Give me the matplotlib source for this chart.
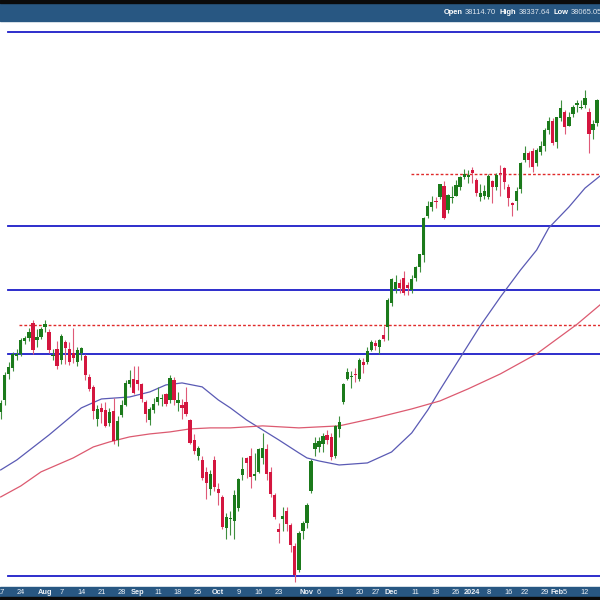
"""
Daily candlestick chart, Jul 2023 - Feb 2024, with two moving averages
and hand-drawn support / resistance levels.
"""
import numpy as np
import matplotlib
matplotlib.use("Agg")
import matplotlib.pyplot as plt
from matplotlib.patches import Rectangle
from matplotlib.transforms import blended_transform_factory

BAND   = "#285782"
UP     = "#1b7a1b"
DOWN   = "#d4163f"
UPWICK = "#3f8f3f"
DNWICK = "#df5a78"
LEVEL  = "#1c1cc8"
DOTTED = "#e02a2a"

plt.rcParams["font.family"] = ["Liberation Sans", "DejaVu Sans"]

# ── Daily candles, index 0 = Jul 17 2023, last = Feb 15 2024
OPEN = [
    34470, 34620, 34960, 35050, 35200, 35230, 35400, 35440, 35650, 35420, 35460,          # Jul
    35590, 35520, 35200, 35300, 35150, 35390, 35300, 35240, 35120, 35250, 35200, 34920,   # Aug
    34790, 34380, 34520, 34500, 34320, 34480, 34110, 34430, 34560, 34830, 34900,
    34890, 34830, 34600, 34360, 34500, 34600, 34640, 34700, 34620, 34890, 34580, 34560,   # Sep
    34600, 34370, 34100, 33900, 33850, 33700, 33480, 33850,
    33480, 33380, 32990, 33100, 33080, 33240, 33660, 33880, 33900, 33640, 33700, 33880,   # Oct
    33990, 33700, 33400, 32980, 33100, 33200, 33030, 32770, 32470, 32950,
    33050, 33460, 33990, 34020, 34050, 34170, 34150, 33900, 34250, 34600, 34900, 34930,   # Nov
    34960, 34900, 35130, 35120, 35280, 35380, 35330, 35480, 35590,
    35910, 36110, 36190, 36250, 36160, 36090, 36250, 36400, 36570, 37120, 37240, 37330,   # Dec
    37380, 37540, 37200, 37370, 37400, 37520, 37670, 37670,
    37760, 37620, 37380, 37400, 37380, 37600, 37520, 37720, 37790, 37520, 37300, 37330,   # Jan
    37500, 37900, 38000, 38030, 37860, 38020, 38100, 38330, 38470,
    38160, 38510, 38600, 38400, 38570, 38700, 38660, 38700, 38600, 38330, 38440,          # Feb
]
HIGH = [
    34620, 34990, 35120, 35260, 35300, 35450, 35470, 35580, 35680, 35560, 35590,
    35679, 35560, 35300, 35400, 35500, 35420, 35390, 35578, 35330, 35320, 35230, 34970,
    34820, 34560, 34580, 34600, 34520, 34650, 34420, 34620, 34880, 35020, 35070,
    35070, 34850, 34620, 34530, 34650, 34790, 34700, 34720, 34950, 34930, 34730, 34640,
    34790, 34380, 34180, 34030, 33900, 33760, 33720, 33900,
    33560, 33400, 33180, 33200, 33470, 33620, 33890, 33890, 34000, 33940, 34000, 34200,
    34050, 33760, 33430, 33050, 33260, 33250, 33060, 32800, 32950, 33080,
    33300, 33860, 34150, 34150, 34200, 34230, 34200, 34300, 34420, 34850, 35050, 35000,
    35050, 35180, 35180, 35330, 35420, 35420, 35430, 35600, 35980,
    36260, 36290, 36240, 36350, 36200, 36290, 36420, 36590, 37100, 37330, 37400, 37380,
    37570, 37600, 37420, 37530, 37620, 37680, 37778, 37760,
    37800, 37650, 37560, 37550, 37700, 37620, 37720, 37830, 37800, 37560, 37310, 37520,
    37880, 38100, 38030, 38080, 38080, 38180, 38360, 38520, 38510,
    38520, 38780, 38620, 38600, 38700, 38770, 38780, 38925, 38650, 38480, 38790,
]
LOW = [
    34380, 34560, 34900, 35000, 35150, 35200, 35370, 35400, 35230, 35330, 35430,
    35530, 35250, 35150, 35030, 35100, 35100, 35080, 35110, 35070, 35150, 34880, 34740,
    34380, 34290, 34330, 34270, 34290, 34060, 34030, 34400, 34540, 34800, 34700,
    34750, 34600, 34340, 34300, 34450, 34560, 34550, 34540, 34590, 34560, 34480, 34380,
    34420, 34050, 33930, 33850, 33590, 33350, 33400, 33450,
    33280, 32980, 32850, 32900, 32850, 33200, 33600, 33620, 33500, 33600, 33690, 33800,
    33600, 33380, 33100, 32800, 32950, 32960, 32700, 32327, 32450, 32850,
    32990, 33430, 33900, 33950, 33950, 34050, 33850, 33880, 34150, 34570, 34880, 34780,
    34860, 34870, 34980, 35100, 35270, 35290, 35230, 35400, 35420,
    35870, 36050, 36050, 36020, 36020, 36050, 36220, 36340, 36480, 37080, 37180, 37230,
    37350, 37070, 37150, 37300, 37390, 37480, 37640, 37580,
    37580, 37400, 37330, 37350, 37350, 37300, 37480, 37390, 37500, 37250, 37120, 37200,
    37430, 37880, 37800, 37740, 37820, 37980, 38030, 38280, 38120,
    38080, 38460, 38280, 38390, 38530, 38600, 38640, 38650, 38000, 38200, 38390,
]
CLOSE = [
    34585, 34952, 35061, 35225, 35228, 35411, 35438, 35520, 35283, 35459, 35560,
    35630, 35283, 35216, 35066, 35474, 35314, 35123, 35176, 35281, 35308, 34946, 34766,
    34475, 34501, 34464, 34288, 34473, 34099, 34347, 34560, 34853, 34891, 34722,
    34838, 34642, 34443, 34501, 34577, 34664, 34646, 34576, 34908, 34618, 34625, 34518,
    34441, 34070, 33964, 34007, 33619, 33551, 33667, 33508,
    33433, 33002, 33129, 33120, 33408, 33605, 33740, 33805, 33631, 33670, 33985, 33998,
    33665, 33415, 33127, 32937, 33141, 33036, 32785, 32418, 32929, 33053,
    33275, 33839, 34061, 34096, 34153, 34112, 33892, 34283, 34338, 34828, 34991, 34945,
    34947, 35151, 35088, 35273, 35390, 35333, 35417, 35430, 35951,
    36245, 36204, 36124, 36054, 36118, 36248, 36405, 36578, 37090, 37248, 37306, 37307,
    37558, 37083, 37405, 37386, 37545, 37657, 37710, 37690,
    37715, 37430, 37440, 37466, 37683, 37525, 37696, 37711, 37593, 37361, 37266, 37469,
    37864, 38001, 37905, 37806, 38050, 38109, 38333, 38467, 38150,
    38519, 38654, 38380, 38521, 38677, 38726, 38671, 38797, 38273, 38424, 38773,
]

# ── date labels along the bottom band (candle index, text)
TICK_POS  = [0, 5, 11, 15, 20, 25, 30, 34, 39, 44, 49, 54, 59, 64, 69, 76, 79, 84,
             89, 93, 97, 103, 108, 113, 117, 121, 126, 130, 135, 138, 140, 145]
TICK_TEXT = ["17", "24", "Aug", "7", "14", "21", "28", "Sep", "11", "18", "25", "Oct",
             "9", "16", "23", "Nov", "6", "13", "20", "27", "Dec", "11", "18", "26",
             "2024", "8", "16", "22", "29", "Feb", "5", "12"]
BOLD_TICKS = {"Aug", "Sep", "Oct", "Nov", "Dec", "2024", "Feb"}

# ── moving averages (candle index, value)
MA_FAST_X = [0, 4, 12, 20, 25, 32, 37, 41, 45, 50, 54, 57, 61, 65, 69, 74, 76, 79,
             84, 91, 97, 102, 106, 109, 114, 119, 124, 129, 133, 136, 141, 145, 149]
MA_FAST_Y = [33723, 33850, 34171, 34521, 34638, 34664, 34730, 34822, 34848, 34796,
             34625, 34521, 34365, 34236, 34107, 33940, 33876, 33837, 33786, 33812,
             33952, 34197, 34495, 34756, 35179, 35606, 35996, 36365, 36640, 36946,
             37239, 37506, 37690]
MA_SLOW_X = [0, 5, 10, 18, 23, 27, 32, 37, 42, 47, 52, 57, 65, 74, 84, 93, 102,
             109, 116, 124, 133, 143, 149]
MA_SLOW_Y = [33381, 33520, 33698, 33876, 34017, 34081, 34146, 34184, 34210, 34249,
             34262, 34262, 34288, 34262, 34288, 34391, 34508, 34612, 34770, 34967,
             35232, 35627, 35902]

# ── horizontal levels
BLUE_LEVELS = [39780, 36973, 36091, 35230, 32400]
RED_LEVELS  = [37706, 35618]

HEADER = [("Open", "38114.70"), ("High", "38337.64"), ("Low", "38065.05")]


W, H = 600, 600
fig = plt.figure(figsize=(6, 6), dpi=100)
fig.patch.set_facecolor("white")

# header and footer bands (kept underneath everything)
for y0, hgt, col in [(1 - 21 / H, 21 / H, BAND), (1 - 3 / H, 3 / H, "#0b0b0b"),
                     (0, 13 / H, BAND), (0, 3 / H, "#0b0b0b")]:
    fig.patches.append(Rectangle((0, y0), 1, hgt, transform=fig.transFigure,
                                 color=col, zorder=-10))

ax = fig.add_axes([0, 13 / H, 1, (587 - 22) / H])
ax.set_yscale("log")
ax.set_ylim(32266, 39931)
ax.set_xlim(-0.17, 148.72)
ax.axis("off")

o = np.array(OPEN, float)
h = np.array(HIGH, float)
l = np.array(LOW, float)
c = np.array(CLOSE, float)
x = np.arange(len(c))
up = c >= o

# levels
for v in BLUE_LEVELS:
    ax.axhline(v, xmin=8 / W, xmax=1, color=LEVEL, lw=1.3, zorder=1)
ax.axhline(RED_LEVELS[0], xmin=411 / W, xmax=1, color=DOTTED, lw=1.0,
           ls=(0, (2, 1.5)), zorder=1)
ax.axhline(RED_LEVELS[1], xmin=19 / W, xmax=1, color=DOTTED, lw=1.0,
           ls=(0, (2, 1.5)), zorder=1)

# moving averages
ax.plot(MA_FAST_X, MA_FAST_Y, color="#5a5ab4", lw=0.9, zorder=2)
ax.plot(MA_SLOW_X, MA_SLOW_Y, color="#dc5a70", lw=0.9, zorder=2)

# candles
ax.vlines(x, l, h, colors=np.where(up, UPWICK, DNWICK), lw=0.8, zorder=3)
body = np.maximum(np.abs(c - o), 14)
ax.bar(x, body, bottom=np.minimum(o, c), width=0.8,
       color=np.where(up, UP, DOWN), linewidth=0, zorder=4)

# date labels in the footer band
trans = blended_transform_factory(ax.transData, fig.transFigure)
for pos, txt in zip(TICK_POS, TICK_TEXT):
    fig.text(pos, 7.5 / H, txt, transform=trans, ha="center", va="center",
             fontsize=5.3, color="#eef2f7", zorder=5,
             fontweight="bold" if txt in BOLD_TICKS else "normal")

# header quote, chained left to right
fig.canvas.draw()
r = fig.canvas.get_renderer()
xpos = 444
for key, val in HEADER:
    t = fig.text(xpos / W, 1 - 12 / H, key, fontsize=5.4, fontweight="bold",
                 color="white", va="center", ha="left")
    xpos = t.get_window_extent(r).x1 + 2
    t = fig.text(xpos / W, 1 - 12 / H, val, fontsize=5.4, color="#dfe6ee",
                 va="center", ha="left")
    xpos = t.get_window_extent(r).x1 + 3.5

fig.savefig("out.png", dpi=100)
